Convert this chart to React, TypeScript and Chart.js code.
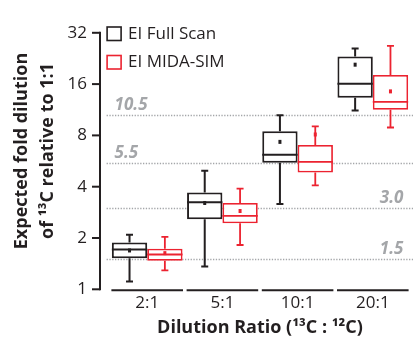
import React, { useEffect, useRef } from 'react';
import { Chart, registerables } from 'chart.js';

Chart.register(...registerables);

const categories = ['2:1', '5:1', '10:1', '20:1'];

const fullScanMin = [1.11, 1.36, 3.17, 11.2];
const fullScanQ1 = [1.52, 2.58, 5.53, 13.3];
const fullScanMedian = [1.71, 3.24, 6.16, 16.05];
const fullScanQ3 = [1.88, 3.7, 8.46, 23.2];
const fullScanMax = [2.09, 4.96, 10.5, 25.9];
const fullScanMean = [1.69, 3.21, 7.33, 20.8];

const midaMin = [1.29, 1.82, 4.07, 8.9];
const midaQ1 = [1.47, 2.44, 4.85, 11.3];
const midaMedian = [1.6, 2.7, 5.6, 12.6];
const midaQ3 = [1.73, 3.21, 7.02, 18.1];
const midaMax = [2.03, 3.9, 9.03, 26.8];
const midaMean = [1.63, 2.88, 8.1, 14.5];

const yTicks = [1, 2, 4, 8, 16, 32];
const refValues = [10.5, 5.5, 3.0, 1.5];
const refLabels = ['10.5', '5.5', '3.0', '1.5'];
const refLabelSide = ['left', 'left', 'right', 'right'];

const seriesNames = ['EI Full Scan', 'EI MIDA-SIM'];
const yTitleLines = ['Expected fold dilution', 'of \u00B9\u00B3C relative to 1:1'];
const xTitle = 'Dilution Ratio (\u00B9\u00B3C : \u00B9\u00B2C)';

const BLACK = '#231f20';
const RED = '#ec2330';
const GRAY = '#a4a6a9';
const FONT = '"Open Sans", "DejaVu Sans", sans-serif';

const seriesStats = [
  { min: fullScanMin, med: fullScanMedian, max: fullScanMax, mean: fullScanMean, color: BLACK, lw: 2 },
  { min: midaMin, med: midaMedian, max: midaMax, mean: midaMean, color: RED, lw: 1.8 },
];

const decorPlugin = {
  id: 'decor',
  beforeDatasetsDraw(chart: any) {
    const { ctx, chartArea, scales } = chart;
    const y = scales.y;
    const x = scales.x;
    ctx.save();
    // reference lines
    refValues.forEach((v, i) => {
      const py = Math.round(y.getPixelForValue(v)) + 0.5;
      ctx.strokeStyle = GRAY;
      ctx.lineWidth = 1.3;
      ctx.setLineDash([1.3, 1.5]);
      ctx.beginPath();
      ctx.moveTo(chartArea.left - 3, py);
      ctx.lineTo(chart.width, py);
      ctx.stroke();
      ctx.setLineDash([]);
      ctx.font = 'italic bold 17px ' + FONT;
      ctx.fillStyle = GRAY;
      ctx.textBaseline = 'alphabetic';
      if (refLabelSide[i] === 'left') {
        ctx.textAlign = 'left';
        ctx.fillText(refLabels[i], chartArea.left + 5, py - 6);
      } else {
        ctx.textAlign = 'right';
        ctx.fillText(refLabels[i], chartArea.right - 7, py - 6);
      }
    });
    // y axis line and ticks
    const ax = 100;
    ctx.strokeStyle = BLACK;
    ctx.lineWidth = 2;
    ctx.beginPath();
    ctx.moveTo(ax, y.getPixelForValue(32) - 1);
    ctx.lineTo(ax, y.getPixelForValue(1) + 1);
    ctx.stroke();
    yTicks.forEach((t) => {
      const py = y.getPixelForValue(t);
      ctx.beginPath();
      ctx.moveTo(92, py);
      ctx.lineTo(ax, py);
      ctx.stroke();
    });
    // x category segments
    const by = chartArea.bottom + 1;
    categories.forEach((_, i) => {
      const cx = x.getPixelForValue(i);
      ctx.beginPath();
      ctx.moveTo(cx - 35.8, by);
      ctx.lineTo(cx + 35.8, by);
      ctx.stroke();
    });
    ctx.restore();
  },
  afterDatasetsDraw(chart: any) {
    const { ctx, scales } = chart;
    const y = scales.y;
    ctx.save();
    seriesStats.forEach((s, di) => {
      const meta = chart.getDatasetMeta(di);
      meta.data.forEach((bar: any, i: number) => {
        const { x, width } = bar.getProps(['x', 'width'], true);
        const ds = chart.data.datasets[di].data[i];
        const yQ1 = y.getPixelForValue(ds[0]);
        const yQ3 = y.getPixelForValue(ds[1]);
        const yMin = y.getPixelForValue(s.min[i]);
        const yMax = y.getPixelForValue(s.max[i]);
        const yMed = y.getPixelForValue(s.med[i]);
        const yMean = y.getPixelForValue(s.mean[i]);
        ctx.strokeStyle = s.color;
        ctx.fillStyle = s.color;
        ctx.lineWidth = s.lw;
        ctx.beginPath();
        ctx.moveTo(x, yQ3);
        ctx.lineTo(x, yMax);
        ctx.moveTo(x - 3.5, yMax);
        ctx.lineTo(x + 3.5, yMax);
        ctx.moveTo(x, yQ1);
        ctx.lineTo(x, yMin);
        ctx.moveTo(x - 3.5, yMin);
        ctx.lineTo(x + 3.5, yMin);
        ctx.moveTo(x - width / 2, yMed);
        ctx.lineTo(x + width / 2, yMed);
        ctx.stroke();
        ctx.fillRect(x - 1.5, yMean - 2, 3, 4);
      });
    });
    ctx.restore();
  },
  afterDraw(chart: any) {
    const { ctx, chartArea } = chart;
    ctx.save();
    // legend
    const lx = chartArea.left - 2.5;
    const rows = [34, 62.5];
    [BLACK, RED].forEach((c, i) => {
      ctx.strokeStyle = c;
      ctx.lineWidth = 1.6;
      ctx.strokeRect(lx, rows[i] - 7, 14, 13.5);
      ctx.fillStyle = BLACK;
      ctx.font = '17px ' + FONT;
      ctx.textAlign = 'left';
      ctx.textBaseline = 'middle';
      ctx.fillText(seriesNames[i], lx + 21, rows[i]);
    });
    // y title
    ctx.font = 'bold 18px ' + FONT;
    ctx.fillStyle = BLACK;
    ctx.textAlign = 'center';
    ctx.textBaseline = 'middle';
    const xs = [22, 47.5];
    yTitleLines.forEach((t, i) => {
      ctx.save();
      ctx.translate(xs[i], 151);
      ctx.rotate(-Math.PI / 2);
      ctx.fillText(t, 0, 0);
      ctx.restore();
    });
    ctx.restore();
  },
};

export default function App() {
  const ref = useRef<HTMLCanvasElement | null>(null);
  useEffect(() => {
    if (!ref.current) return;
    const chart = new Chart(ref.current, {
      type: 'bar',
      data: {
        labels: categories,
        datasets: [
          {
            label: seriesNames[0],
            data: fullScanQ1.map((q, i) => [q, fullScanQ3[i]]),
            backgroundColor: '#ffffff',
            borderColor: BLACK,
            borderWidth: 2,
            borderSkipped: false,
          },
          {
            label: seriesNames[1],
            data: midaQ1.map((q, i) => [q, midaQ3[i]]),
            backgroundColor: '#ffffff',
            borderColor: RED,
            borderWidth: 1.8,
            borderSkipped: false,
          },
        ] as any,
      },
      options: {
        animation: false,
        responsive: false,
        categoryPercentage: 0.94,
        barPercentage: 1.0,
        layout: { padding: { top: 23.7, right: 2.6, left: 0, bottom: 0 } },
        plugins: { legend: { display: false }, tooltip: { enabled: false } },
        scales: {
          x: {
            grid: { display: false, drawTicks: false },
            border: { display: false },
            ticks: { color: BLACK, font: { family: FONT, size: 17 }, padding: 4 },
            title: {
              display: true,
              text: xTitle,
              color: BLACK,
              font: { family: FONT, size: 18, weight: 'bold', lineHeight: 1 },
              padding: { top: 0, bottom: 0 },
            },
            afterFit: (s: any) => {
              s.height = 47.7;
            },
          },
          y: {
            type: 'logarithmic',
            min: 1,
            max: 32,
            grid: { display: false, drawTicks: false },
            border: { display: false },
            ticks: {
              color: BLACK,
              font: { family: FONT, size: 17 },
              padding: 22.6,
              callback: (v: any) => String(v),
            },
            afterBuildTicks: (s: any) => {
              s.ticks = yTicks.map((v) => ({ value: v }));
            },
            afterFit: (s: any) => {
              s.width = 109.6;
            },
          },
        },
      } as any,
      plugins: [decorPlugin],
    });
    return () => chart.destroy();
  }, []);
  return (
    <div style={{ position: 'fixed', left: 0, top: 0, width: 413, height: 337, background: '#fff' }}>
      <canvas ref={ref} width={413} height={337} style={{ display: 'block' }} />
    </div>
  );
}
